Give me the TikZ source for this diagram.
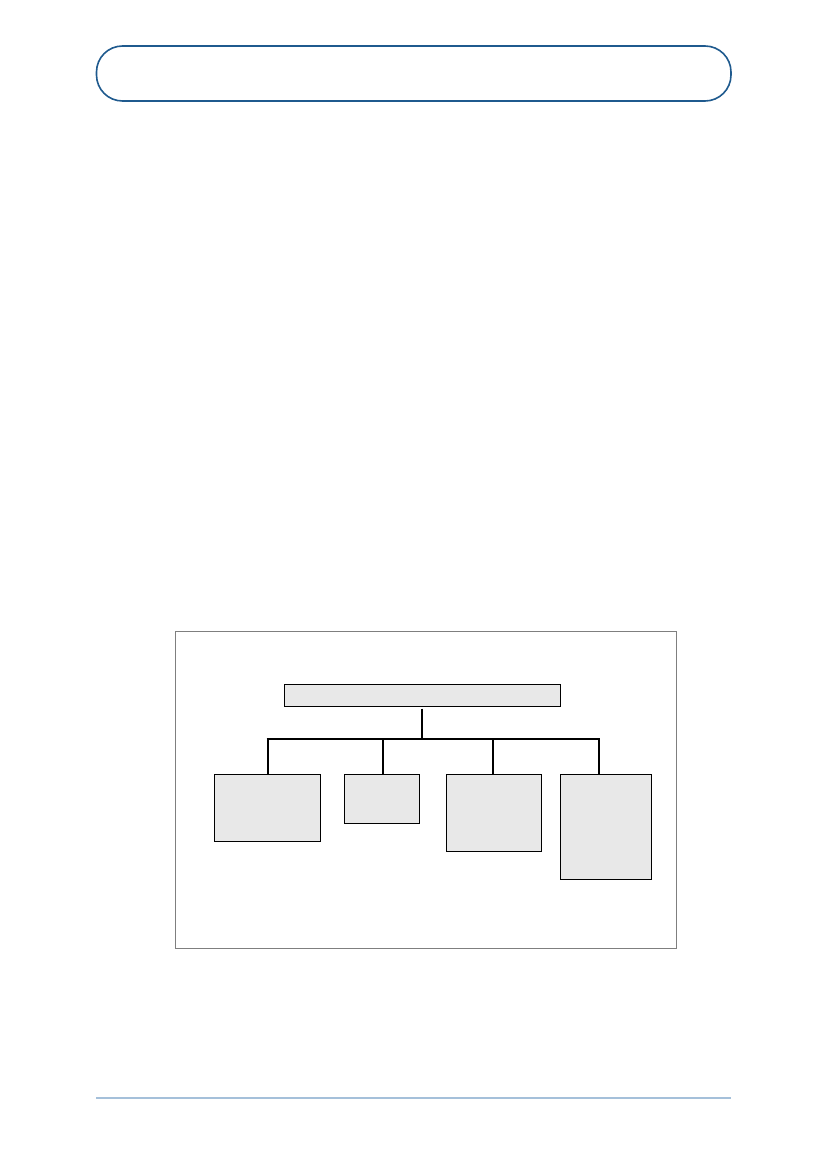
\documentclass[tikz,border=0pt]{standalone}
\begin{document}
\begin{tikzpicture}[x=1pt,y=-1pt,
  hdr/.style={draw=hdrblue,line width=1.6pt,rounded corners=26pt},
  frame/.style={draw=framegray,line width=1pt},
  orgbox/.style={draw=black,line width=1pt,fill=boxgray,inner sep=0pt},
  conn/.style={draw=black,line width=2pt}]
\definecolor{hdrblue}{HTML}{1F5A8E}
\definecolor{footblue}{HTML}{A5C0DA}
\definecolor{framegray}{HTML}{7F7F7F}
\definecolor{boxgray}{HTML}{E8E8E8}
\useasboundingbox (0,0) rectangle (826,1169);
% header
\draw[hdr] (96.5,46) rectangle (731,101);
% footer rule
\coordinate (fl) at (96,1098);
\coordinate (fr) at (731,1098);
\draw[draw=footblue,line width=1.5pt] (fl) -- (fr);
% frame
\draw[frame] (175.5,631) rectangle (676.5,948);
% boxes
\node[orgbox,minimum width=276pt,minimum height=22pt,anchor=north west] (top) at (283.5,683.5) {};
\node[orgbox,minimum width=106pt,minimum height=67pt,anchor=north west] (b1) at (213.5,773.5) {};
\node[orgbox,minimum width=75pt,minimum height=49.5pt,anchor=north west] (b2) at (343.5,773.5) {};
\node[orgbox,minimum width=95pt,minimum height=77.5pt,anchor=north west] (b3) at (445.5,773.5) {};
\node[orgbox,minimum width=91pt,minimum height=105.5pt,anchor=north west] (b4) at (559.5,773.5) {};
% connectors
\coordinate (hub) at (421.7,739.3);
\coordinate (d1) at (267.7,739.3);
\coordinate (d2) at (383,739.3);
\coordinate (d3) at (492.7,739.3);
\coordinate (d4) at (599,739.3);
\draw[conn] ([yshift=-2pt]top.south -| hub) -- (hub);
\draw[conn] ([xshift=-1pt]d1) -- ([xshift=1pt]d4);
\draw[conn] (d1) -- (d1 |- b1.north);
\draw[conn] (d2) -- (d2 |- b2.north);
\draw[conn] (d3) -- (d3 |- b3.north);
\draw[conn] (d4) -- (d4 |- b4.north);
\end{tikzpicture}
\end{document}
